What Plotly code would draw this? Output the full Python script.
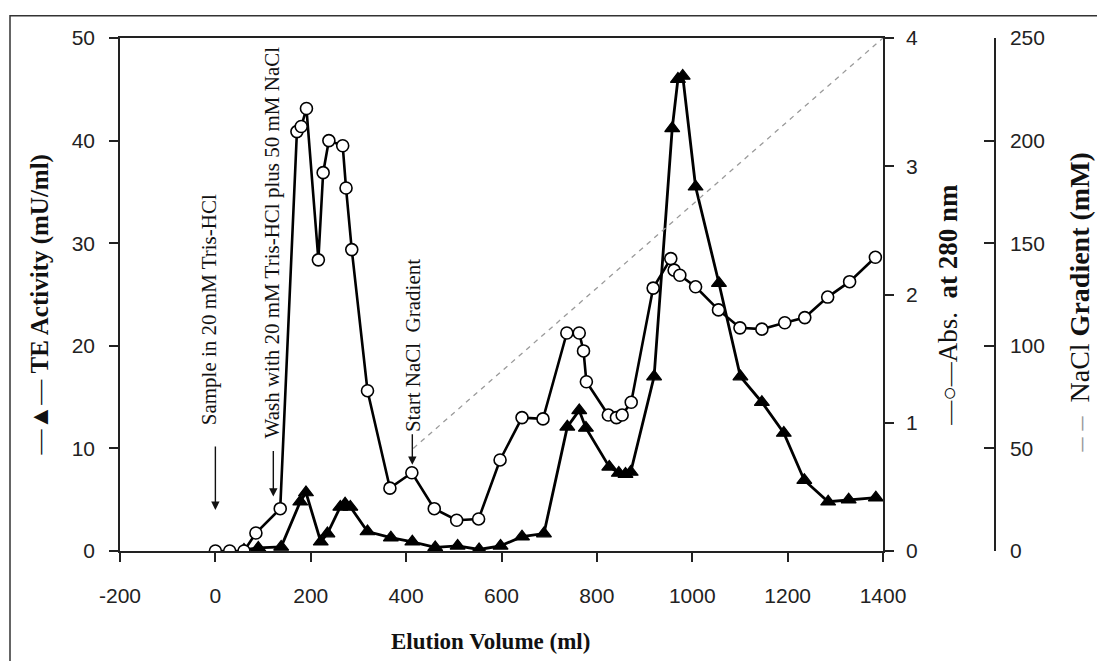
import plotly.graph_objects as go

# ---- data ----
abs_x = [0, 30, 60, 85, 136, 171, 180, 191, 216, 226, 238, 267, 274, 286, 319, 366, 412,
         459, 506, 552, 597, 643, 687, 737, 763, 772, 778, 824, 841, 853, 872, 918, 955,
         962, 974, 1007, 1055, 1100, 1146, 1194, 1236, 1284, 1330, 1384]
abs_y = [0.0, 0.0, 0.0, 0.14, 0.33, 3.27, 3.31, 3.45, 2.27, 2.95, 3.20, 3.16, 2.83, 2.35,
         1.25, 0.49, 0.61, 0.33, 0.24, 0.25, 0.71, 1.04, 1.03, 1.70, 1.70, 1.56, 1.32, 1.06,
         1.04, 1.06, 1.16, 2.05, 2.28, 2.19, 2.15, 2.06, 1.88, 1.74, 1.73, 1.78, 1.82, 1.98,
         2.10, 2.29]

te_x = [60, 90, 138, 178, 190, 221, 235, 262, 272, 283, 319, 368, 413, 461, 508, 553, 598,
        643, 689, 738, 763, 777, 826, 846, 860, 871, 920, 958, 970, 980, 1007, 1056, 1101,
        1146, 1192, 1235, 1285, 1328, 1385]
te_y = [0.1, 0.3, 0.4, 4.8, 5.7, 0.9, 1.7, 4.3, 4.6, 4.3, 1.9, 1.3, 0.9, 0.35, 0.5, 0.15,
        0.5, 1.4, 1.7, 12.1, 13.7, 12.0, 8.2, 7.6, 7.5, 7.7, 17.0, 41.2, 46.0, 46.3, 35.5,
        26.1, 17.0, 14.5, 11.5, 6.9, 4.8, 5.0, 5.2]

nacl_x = [415, 1400]
nacl_y = [50, 250]

x_ticks = [-200, 0, 200, 400, 600, 800, 1000, 1200, 1400]
x_tick_text = ["-200", "0", "200", "400", "600", "800", "1000", "1200", "1400"]

SERIF = "Liberation Serif, Times New Roman, serif"
SANS = "Liberation Sans, Arial, sans-serif"

fig = go.Figure()

fig.add_trace(go.Scatter(
    x=te_x, y=te_y, mode="lines+markers", yaxis="y", name="TE",
    line=dict(color="black", width=2.8),
    marker=dict(symbol="triangle-up", size=13, color="black",
                line=dict(color="black", width=1.2)),
    showlegend=False))

fig.add_trace(go.Scatter(
    x=abs_x, y=abs_y, mode="lines+markers", yaxis="y2", name="Abs",
    line=dict(color="black", width=2.6),
    marker=dict(symbol="circle", size=12, color="white",
                line=dict(color="black", width=1.6)),
    showlegend=False))

fig.add_trace(go.Scatter(
    x=nacl_x, y=nacl_y, mode="lines", yaxis="y3", name="NaCl",
    line=dict(color="#9a9a9a", width=1.3, dash="5px,5px"),
    showlegend=False))

tickfont = dict(family=SANS, size=21, color="#222")

# page body has an 8px margin, so the figure is laid out 8px smaller / shifted
fig.update_layout(
    width=1097, height=653,
    margin=dict(l=112, r=105, t=30, b=110),
    paper_bgcolor="white", plot_bgcolor="white",
    xaxis=dict(domain=[0, 763 / 880], range=[-200, 1400], tickvals=x_ticks,
               ticktext=x_tick_text,
               ticks="outside", ticklen=9, tickwidth=1.5, tickcolor="#222",
               showline=True, linecolor="#222", linewidth=1.5, mirror=True,
               showgrid=False, zeroline=False, tickfont=tickfont,
               ticklabelstandoff=16),
    yaxis=dict(range=[0, 50], dtick=10, ticks="outside", ticklen=9, tickwidth=1.5,
               tickcolor="#222", showline=True, linecolor="#222", linewidth=1.5,
               showgrid=False, zeroline=False, tickfont=tickfont,
               ticklabelstandoff=10),
    yaxis2=dict(range=[0, 4], dtick=1, overlaying="y", side="right", anchor="x",
                ticks="outside", ticklen=9, tickwidth=1.5, tickcolor="#222",
                showline=True, linecolor="#222", linewidth=1.5, showgrid=False,
                zeroline=False, tickfont=tickfont, ticklabelstandoff=8),
    yaxis3=dict(range=[0, 250], dtick=50, overlaying="y", side="right", anchor="free",
                position=(995 - 120) / 880, ticks="inside", ticklen=10, tickwidth=1.5,
                tickcolor="#222", showline=True, linecolor="#222", linewidth=1.5,
                showgrid=False, zeroline=False, tickfont=tickfont,
                ticklabelstandoff=10),
)

# outer frame
fig.add_shape(type="rect", xref="paper", yref="paper",
              x0=(10 - 120) / 880, x1=(1101 - 120) / 880,
              y0=(551 - 700) / 513, y1=(551 - 15.7) / 513,
              line=dict(color="#333", width=1.5), fillcolor="rgba(0,0,0,0)",
              layer="below")

# axis titles
fig.add_annotation(xref="paper", yref="paper", x=(490 - 120) / 880, y=(551 - 641) / 513,
                   xanchor="center", yanchor="middle",
                   text="<b>Elution Volume (ml)</b>", showarrow=False,
                   font=dict(family=SERIF, size=23, color="#111"))
fig.add_annotation(xref="paper", yref="paper", x=(40 - 120) / 880, y=0.4786,
                   xanchor="center", yanchor="middle",
                   textangle=-90, showarrow=False,
                   text="—▲— <b>TE Activity (mU/ml)</b>",
                   font=dict(family=SERIF, size=25, color="#111"))
fig.add_annotation(xref="paper", yref="paper", x=(948 - 120) / 880, y=0.480,
                   xanchor="center", yanchor="middle",
                   textangle=-90, showarrow=False,
                   text="<span style='font-size:24px'>—○—</span>Abs.  <b>at 280 nm</b>",
                   font=dict(family=SERIF, size=27, color="#111"))
fig.add_annotation(xref="paper", yref="paper", x=(1080 - 120) / 880, y=0.4844,
                   xanchor="center", yanchor="middle",
                   textangle=-90, showarrow=False,
                   text="<span style='color:#9a9a9a'>– –</span>  NaCl <b>Gradient (mM)</b>",
                   font=dict(family=SERIF, size=28, color="#111"))

# in-plot notes
notes = [
    dict(text="Sample in 20 mM Tris-HCl", x=-12.6, y=23.5, ax_x=0, head=4.0, tail=-65),
    dict(text="Wash with 20 mM Tris-HCl plus 50 mM NaCl", x=119.4, y=30.1, ax_x=121.5,
         head=5.3, tail=-47),
    dict(text="Start NaCl  Gradient", x=413, y=20.0, ax_x=413, head=8.4, tail=-32),
]
for n in notes:
    fig.add_annotation(xref="x", yref="y", x=n["x"], y=n["y"], text=n["text"],
                       xanchor="center", yanchor="middle",
                       textangle=-90, showarrow=False,
                       font=dict(family=SERIF, size=21, color="#111"))
    fig.add_annotation(xref="x", yref="y", x=n["ax_x"], y=n["head"], text="",
                       showarrow=True, ax=0, ay=n["tail"], arrowhead=2, arrowsize=1.2,
                       arrowwidth=1.4, arrowcolor="#111")

fig.write_html("out.html")
